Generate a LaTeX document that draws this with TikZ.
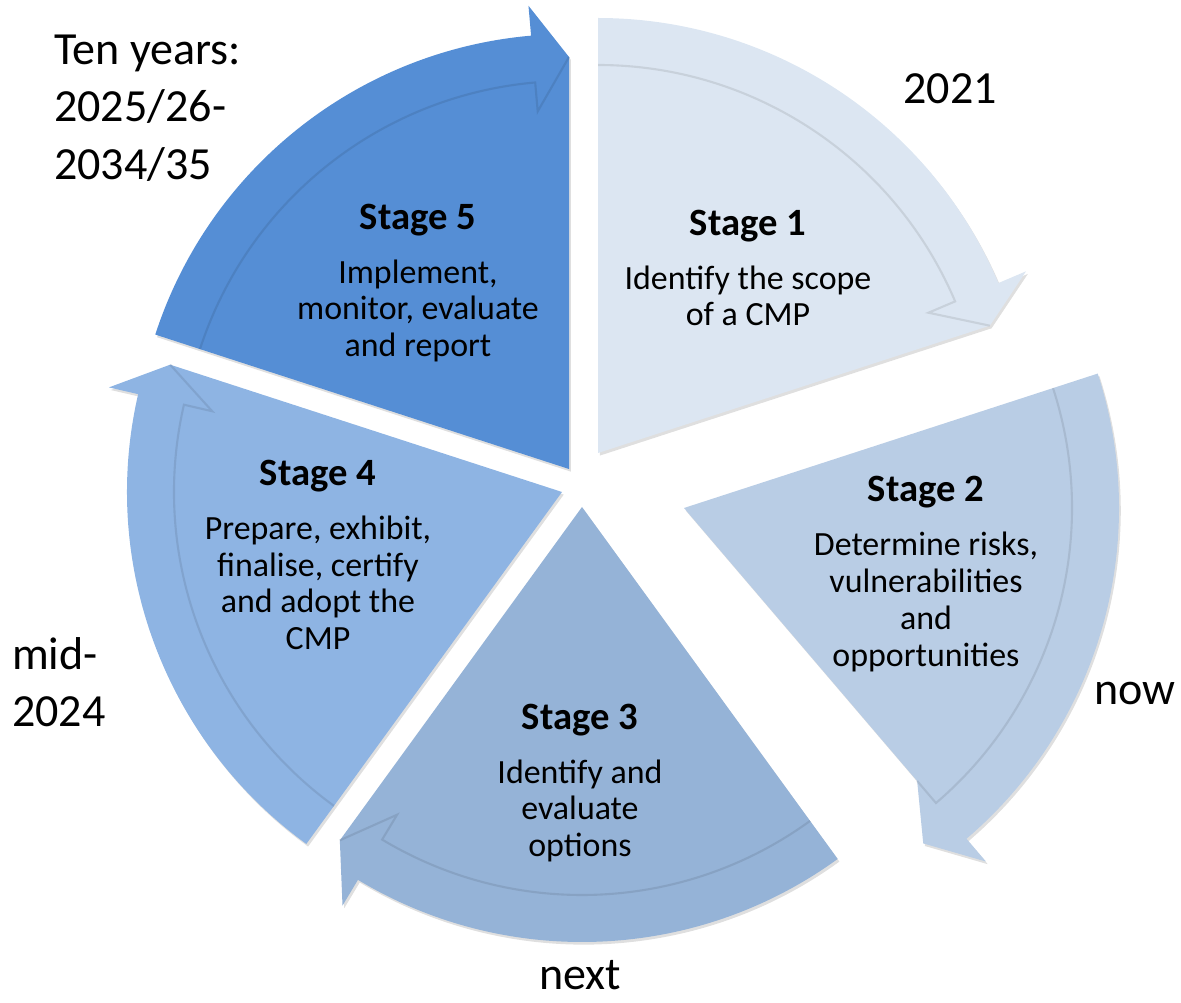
\documentclass[tikz,border=0pt]{standalone}
\usepackage{fontspec}
\setmainfont{Carlito}
\usepackage{tikz}
\usetikzlibrary{shadows}

\definecolor{stageA}{HTML}{DCE6F2}
\definecolor{stageB}{HTML}{B9CDE5}
\definecolor{stageC}{HTML}{95B3D7}
\definecolor{stageD}{HTML}{8EB4E3}
\definecolor{stageE}{HTML}{558ED5}

\newcommand{\stagetitle}[1]{{\fontsize{22}{24}\selectfont\bfseries #1}}

\begin{document}
\begin{tikzpicture}[x=0.02cm, y=0.02cm, font=\fontsize{19.3}{21}\selectfont,
  stagewedge/.style={drop shadow={opacity=0.25, shadow xshift=1pt, shadow yshift=-1.5pt}},
  shaftline/.style={line width=1.2pt, opacity=0.3},
  stagetext/.style={align=center},
  timelabel/.style={font=\fontsize{26.2}{32.7}\selectfont}]
%\draw[help lines, step=100] (0,0) grid (1181,1002);
\useasboundingbox (0,0) rectangle (1181,1002);

% stage 1
\begin{scope}[shift={(598,549)}]
\fill [stageA, stagewedge] (0,0) -- (90:435) arc [start angle=90, end angle=23, radius=435] -- (23:465) -- (18:412) -- cycle;
\draw [stageA!70!black, shaftline] (90:388) arc [start angle=90, end angle=23, radius=388] -- (23:359) -- (18:412);
\end{scope}

% stage 2
\begin{scope}[shift={(684,494)}]
\fill [stageB, stagewedge] (0,0) -- (18:435) arc [start angle=18, end angle=-49.5, radius=435] -- (-49.5:465) -- (-54.5:412) -- (-49.5:359) -- cycle;
\draw [stageB!70!black, shaftline] (18:388) arc [start angle=18, end angle=-49.5, radius=388] -- (-49.5:359);
\end{scope}

% stage 3
\begin{scope}[shift={(582,495)}]
\fill [stageC, stagewedge] (0,0) -- (306:435) arc [start angle=306, end angle=239, radius=435] -- (239:465) -- (234:412) -- cycle;
\draw [stageC!70!black, shaftline] (306:388) arc [start angle=306, end angle=239, radius=388] -- (239:359) -- (234:412);
\end{scope}

% stage 4
\begin{scope}[shift={(562,510)}]
\fill [stageD, stagewedge] (0,0) -- (234:435) arc [start angle=234, end angle=167, radius=435] -- (167:465) -- (162:412) -- cycle;
\draw [stageD!70!black, shaftline] (234:388) arc [start angle=234, end angle=167, radius=388] -- (167:359) -- (162:412);
\end{scope}

% stage 5
\begin{scope}[shift={(569,533)}]
\fill [stageE, stagewedge] (0,0) -- (162:435) arc [start angle=162, end angle=95, radius=435] -- (95:465) -- (90:412) -- cycle;
\draw [stageE!70!black, shaftline] (162:388) arc [start angle=162, end angle=95, radius=388] -- (95:359) -- (90:412);
\end{scope}

\node (s1) [stagetext] at (748,734) {\stagetitle{Stage 1}\\[9.7pt]Identify the scope\\of a CMP};
\node (s2) [stagetext] at (926,428) {\stagetitle{Stage 2}\\[9.7pt]Determine risks,\\vulnerabilities\\and\\opportunities};
\node (s3) [stagetext] at (580,219) {\stagetitle{Stage 3}\\[9.7pt]Identify and\\evaluate\\options};
\node (s4) [stagetext] at (318,447) {\stagetitle{Stage 4}\\[9.7pt]Prepare, exhibit,\\finalise, certify\\and adopt the\\CMP};
\node (s5) [stagetext] at (418,719) {\stagetitle{Stage 5}\\[9.7pt]Implement,\\monitor, evaluate\\and report};

\node (tenyears) [timelabel, align=left, anchor=west] at (48,894) {Ten years:\\2025/26-\\2034/35};
\node (y2021) [timelabel, anchor=base] at (950,898) {2021};
\node (now) [timelabel, anchor=base] at (1135,297) {now};
\node (mid) [timelabel, align=left, anchor=west] at (6,320) {mid-\\2024};
\node (next) [timelabel, anchor=base, inner sep=1pt] at (580,13) {next};
\end{tikzpicture}
\end{document}
